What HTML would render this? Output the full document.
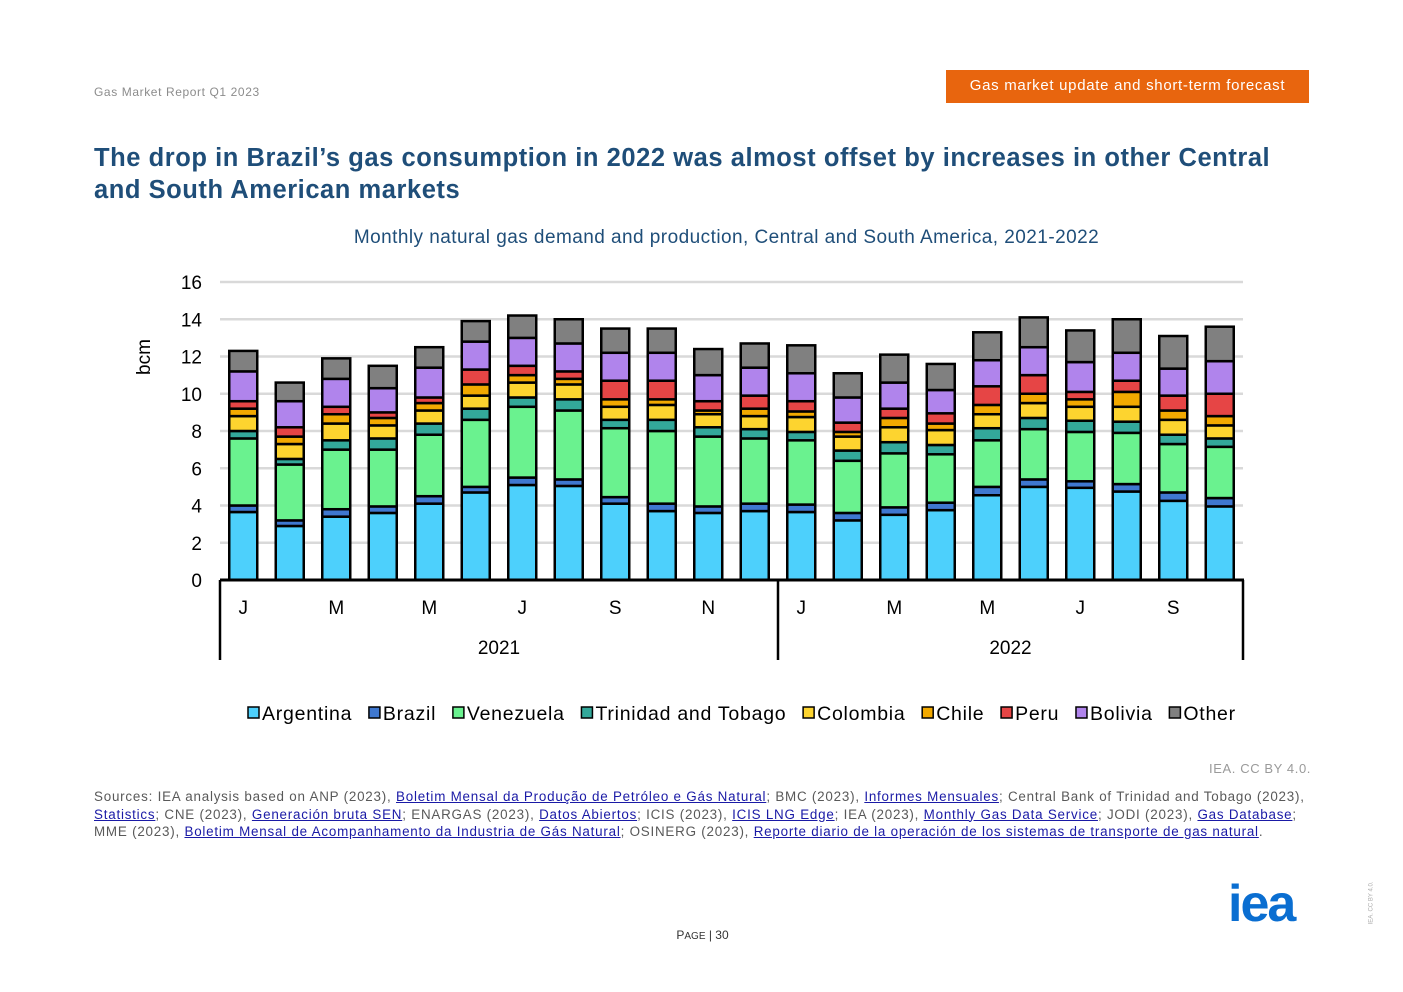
<!DOCTYPE html>
<html><head><meta charset="utf-8">
<style>
body{margin:0;width:1403px;height:992px;background:#fff;font-family:"Liberation Sans",sans-serif;position:relative;overflow:hidden}
.abs{position:absolute}
a{color:#1a1aa6;text-decoration:underline}
</style></head><body>
<div class="abs" style="left:94px;top:85px;font-size:12px;color:#8c8c8c;letter-spacing:0.6px">Gas Market Report Q1 2023</div>
<div class="abs" style="left:946px;top:70px;width:363px;height:33px;background:#e8650e;color:#fff;font-size:15px;line-height:31px;text-align:center;letter-spacing:0.7px">Gas market update and short-term forecast</div>
<div class="abs" style="left:94px;top:142px;width:1220px;font-size:25.5px;font-weight:bold;color:#1f4e79;line-height:32px;letter-spacing:0.55px">The drop in Brazil’s gas consumption in 2022 was almost offset by increases in other Central and South American markets</div>
<div class="abs" style="left:200px;top:227px;width:1053px;text-align:center;font-size:19px;color:#1f4e79;letter-spacing:0.45px">Monthly natural gas demand and production, Central and South America, 2021-2022</div>
<svg class="abs" style="left:0;top:0" width="1403" height="992" id="chart"></svg>
<div class="abs" style="left:1150px;top:761px;width:161px;text-align:right;font-size:13px;color:#9a9a9a;letter-spacing:0.6px">IEA. CC BY 4.0.</div>
<div class="abs" style="left:94px;top:788px;width:1228px;font-size:13.4px;color:#595959;line-height:17.5px;letter-spacing:0.78px">Sources: IEA analysis based on ANP (2023), <a>Boletim Mensal da Produção de Petróleo e Gás Natural</a>; BMC (2023), <a>Informes Mensuales</a>; Central Bank of Trinidad and Tobago (2023), <a>Statistics</a>; CNE (2023), <a>Generación bruta SEN</a>; ENARGAS (2023), <a>Datos Abiertos</a>; ICIS (2023), <a>ICIS LNG Edge</a>; IEA (2023), <a>Monthly Gas Data Service</a>; JODI (2023), <a>Gas Database</a>; MME (2023), <a>Boletim Mensal de Acompanhamento da Industria de Gás Natural</a>; OSINERG (2023), <a>Reporte diario de la operación de los sistemas de transporte de gas natural</a>.</div>
<div class="abs" style="left:640px;top:928px;width:125px;text-align:center;font-size:12px;color:#333">P<span style="font-size:10px">AGE</span> | 30</div>
<div class="abs" style="left:1228px;top:874px;font-size:52px;font-weight:bold;color:#0a6ed1;letter-spacing:-2px">iea</div>
<div class="abs" style="left:1350px;top:900px;font-size:6px;color:#aaa;transform:rotate(-90deg)">IEA. CC BY 4.0.</div>
<script>
const categories=["J","F","M","A","M","J","J","A","S","O","N","D","J","F","M","A","M","J","J","A","S","O"];
const tickLabels=["0","2","4","6","8","10","12","14","16"];
const seriesNames=["Argentina","Brazil","Venezuela","Trinidad and Tobago","Colombia","Chile","Peru","Bolivia","Other"];
const argentina=[3.65,2.9,3.4,3.6,4.1,4.7,5.1,5.05,4.1,3.7,3.6,3.7,3.65,3.2,3.5,3.75,4.55,5.0,4.95,4.75,4.25,3.95];
const brazil=[0.35,0.3,0.4,0.35,0.4,0.3,0.4,0.35,0.35,0.4,0.35,0.4,0.4,0.4,0.4,0.4,0.45,0.4,0.35,0.4,0.45,0.45];
const venezuela=[3.6,3.0,3.2,3.05,3.3,3.6,3.8,3.7,3.7,3.9,3.75,3.5,3.45,2.8,2.9,2.6,2.5,2.7,2.65,2.75,2.6,2.75];
const trinidad=[0.4,0.3,0.5,0.6,0.6,0.6,0.5,0.6,0.45,0.6,0.5,0.5,0.45,0.55,0.6,0.5,0.65,0.6,0.6,0.6,0.5,0.45];
const colombia=[0.8,0.8,0.9,0.7,0.7,0.7,0.8,0.8,0.7,0.8,0.7,0.7,0.8,0.75,0.8,0.8,0.75,0.8,0.75,0.8,0.8,0.7];
const chile=[0.4,0.4,0.5,0.4,0.4,0.6,0.4,0.3,0.4,0.3,0.2,0.4,0.3,0.25,0.5,0.35,0.5,0.5,0.4,0.8,0.5,0.5];
const peru=[0.4,0.5,0.4,0.3,0.3,0.8,0.5,0.4,1.0,1.0,0.5,0.7,0.55,0.5,0.5,0.55,1.0,1.0,0.4,0.6,0.8,1.2];
const bolivia=[1.6,1.4,1.5,1.3,1.6,1.5,1.5,1.5,1.5,1.5,1.4,1.5,1.5,1.35,1.4,1.25,1.4,1.5,1.6,1.5,1.45,1.75];
const other=[1.1,1.0,1.1,1.2,1.1,1.1,1.2,1.3,1.3,1.3,1.4,1.3,1.5,1.3,1.5,1.4,1.5,1.6,1.7,1.8,1.75,1.85];
const years=["2021","2022"];
const series=[argentina,brazil,venezuela,trinidad,colombia,chile,peru,bolivia,other];
const colors=["#4dd0fc","#3f78d0","#6af28f","#33a89a","#fdd42f","#f2a900","#e64545","#b084ec","#808080"];
const NS="http://www.w3.org/2000/svg",svg=document.getElementById('chart');
const X0=220,X1=1243,Y0=580,YT=282,YMAX=16;
const slot=(X1-X0)/categories.length,bw=28;
const y=v=>Y0-(v/YMAX)*(Y0-YT);
const xc=i=>X0+slot*(i+0.5);
function mk(t,a,p){const e=document.createElementNS(NS,t);for(const k in a)e.setAttribute(k,a[k]);(p||svg).appendChild(e);return e;}
tickLabels.forEach(t=>{const v=+t;
 if(v>0){const g=mk('line',{x1:X0,x2:X1,y1:y(v),y2:y(v),stroke:'#d9d9d9','stroke-width':2.5});}
 const tx=mk('text',{x:202,y:y(v)+7,'text-anchor':'end','font-size':19,fill:'#000'});tx.textContent=t;
 });
const yt=mk('text',{x:0,y:0,transform:'translate(150,357) rotate(-90)','text-anchor':'middle','font-size':19});yt.textContent='bcm';

categories.forEach((c,i)=>{let cum=0;
 series.forEach((s,k)=>{const v=s[i];const r=mk('rect',{x:xc(i)-bw/2,y:y(cum+v),width:bw,height:y(cum)-y(cum+v),fill:colors[k],stroke:'#000','stroke-width':2.5});
  cum+=v;});
 if(i%12%2===0&&i%12<=10){const t=mk('text',{x:xc(i),y:614,'text-anchor':'middle','font-size':19});t.textContent=c;
  }
});
const ax=mk('line',{x1:X0,x2:X1+1,y1:Y0,y2:Y0,stroke:'#000','stroke-width':3});
[0,12,22].forEach(i=>{const xx=X0+slot*i;const l=mk('line',{x1:xx,x2:xx,y1:Y0,y2:660,stroke:'#000','stroke-width':2.5});
 });
years.forEach((yr,j)=>{const a=j*12,b=j===0?12:22;const t=mk('text',{x:X0+slot*(a+b)/2,y:654,'text-anchor':'middle','font-size':19});t.textContent=yr;
 });
let lx=248;
seriesNames.forEach((n,k)=>{const g=mk('g',{});
 mk('rect',{x:lx,y:707,width:11,height:11,fill:colors[k],stroke:'#000','stroke-width':1.5},g);
 const t=mk('text',{x:lx+14,y:720,'font-size':19.5,'letter-spacing':0.75},g);t.textContent=n;lx+=14+t.getComputedTextLength()+16.7;});
</script>
</body></html>
